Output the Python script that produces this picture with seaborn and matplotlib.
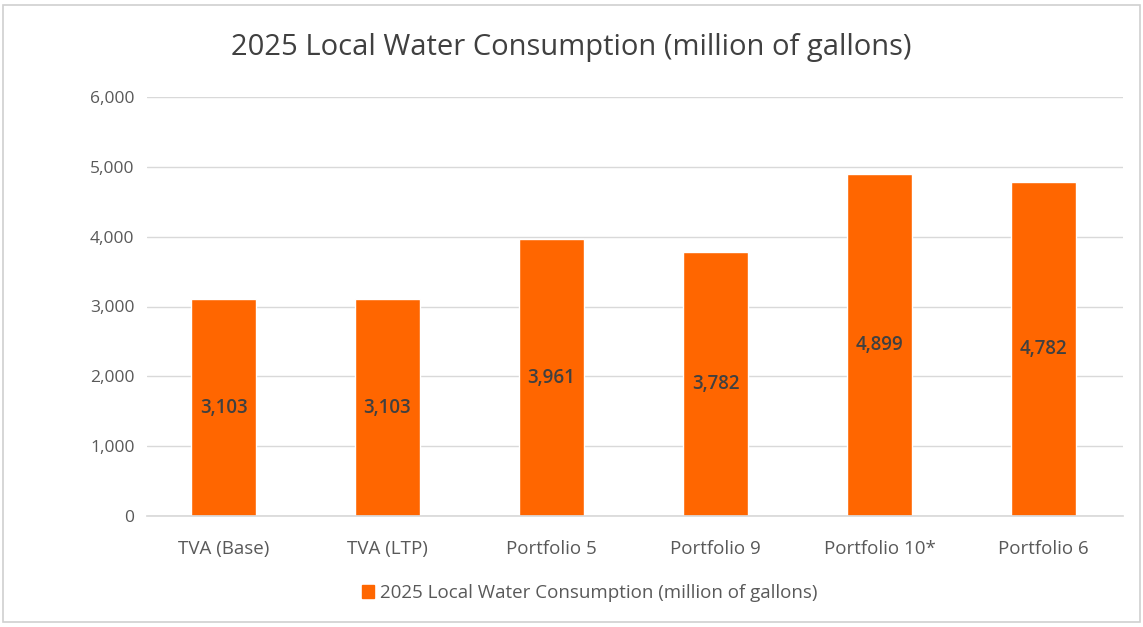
import matplotlib
matplotlib.use("Agg")
import matplotlib.pyplot as plt
import seaborn as sns
import pandas as pd
from matplotlib.patches import Rectangle, Patch

categories = ["TVA (Base)", "TVA (LTP)", "Portfolio 5", "Portfolio 9", "Portfolio 10*", "Portfolio 6"]
values = [3103, 3103, 3961, 3782, 4899, 4782]
series_name = "2025 Local Water Consumption (million of gallons)"
yticks = [0, 1000, 2000, 3000, 4000, 5000, 6000]

sns.set_theme(style="white")
plt.rcParams['font.family'] = ['Open Sans', 'DejaVu Sans']

df = pd.DataFrame({"cat": categories, "val": values})
fig = plt.figure(figsize=(11.43, 6.27), dpi=100)
ax = fig.add_axes([147 / 1143, 1 - 516 / 627, 976 / 1143, 419 / 627])
sns.barplot(data=df, x="cat", y="val", color="#FF6600", width=0.396, ax=ax, saturation=1)

ax.set_ylim(0, 6000)
ax.set_yticks(yticks)
ax.set_yticklabels([f"{v:,}" for v in yticks], fontsize=12.5, color="#595959")
ax.tick_params(axis='x', labelsize=13.5, colors="#595959", length=0, pad=17)
ax.tick_params(axis='y', length=0, pad=9)
ax.yaxis.grid(True, color="#D9D9D9", linewidth=1)
ax.set_axisbelow(True)
for s in ["top", "right", "left"]:
    ax.spines[s].set_visible(False)
ax.spines["bottom"].set_color("#D9D9D9")
ax.set_xlabel("")
ax.set_ylabel("")
ax.set_xlim(-0.4665, 5.485)

for i, v in enumerate(values):
    ax.text(i, v / 2, f"{v:,}", ha="center", va="center", fontsize=13.5,
            color="#404040", fontweight="semibold")

fig.text(0.5, 0.925, series_name, ha="center", va="center", fontsize=21, color="#404040")
fig.legend(handles=[Patch(color="#FF6600", label=series_name)], loc="center",
           bbox_to_anchor=(0.516, 0.054), frameon=False, fontsize=13.5,
           handlelength=0.65, handleheight=0.65, handletextpad=0.35, labelcolor="#595959")

fig.patches.append(Rectangle((0.003, 0.008), 0.994, 0.984, transform=fig.transFigure,
                             fill=False, edgecolor="#D0D0D0", linewidth=1.2))
fig.savefig("out.png", dpi=100)
